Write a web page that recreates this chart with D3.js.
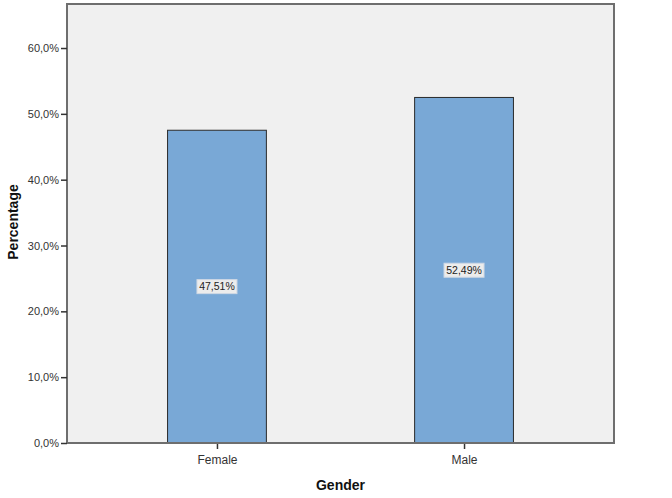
<!DOCTYPE html>
<html><head><meta charset="utf-8">
<script src="https://cdn.jsdelivr.net/npm/d3@7/dist/d3.min.js"></script>
<style>body{margin:0;background:#fff}svg{display:block}</style>
</head><body>
<svg id="c" width="672" height="498"></svg>
<script>
const categories = ["Female", "Male"];
const values = [47.51, 52.49];
const valueLabels = ["47,51%", "52,49%"];
const yTicks = [0, 10, 20, 30, 40, 50, 60];
const xTitle = "Gender";
const yTitle = "Percentage";

const svg = d3.select("#c");
const L = 67, R = 614, T = 4, B = 443;
const x = d3.scalePoint().domain(categories).range([L, R]).padding(0.607);
const y = d3.scaleLinear().domain([0, 60]).range([B, B - 6 * 65.83]);
const bw = x.step() * 0.4;

svg.append("rect").attr("x", L).attr("y", T).attr("width", R - L).attr("height", B - T)
  .attr("fill", "#f0f0f0").attr("stroke", "#6e6e6e").attr("stroke-width", 2);

svg.selectAll("rect.bar").data(values).join("rect").attr("class", "bar")
  .attr("x", (d, i) => x(categories[i]) - bw / 2)
  .attr("y", d => y(d))
  .attr("width", bw)
  .attr("height", d => y(0) - y(d))
  .attr("fill", "#79a8d6").attr("stroke", "#2a2a2a").attr("stroke-width", 1);

// y axis
const ya = svg.append("g").attr("transform", `translate(${L},0)`)
  .call(d3.axisLeft(y).tickValues(yTicks).tickSize(6).tickSizeOuter(0)
    .tickFormat(d => d.toFixed(1).replace(".", ",") + "%"));
ya.select(".domain").remove();
ya.selectAll("line").attr("stroke", "#333").attr("stroke-width", 1.5);
ya.selectAll("text").attr("font-family", "Arial, Liberation Sans, sans-serif").attr("font-size", 11).attr("fill", "#333").attr("dx", 1);

// x axis
const xa = svg.append("g").attr("transform", `translate(0,${B})`)
  .call(d3.axisBottom(x).tickSize(6).tickSizeOuter(0).tickPadding(6));
xa.select(".domain").remove();
xa.selectAll("line").attr("stroke", "#333").attr("stroke-width", 1.5);
xa.selectAll("text").attr("font-family", "Arial, Liberation Sans, sans-serif").attr("font-size", 12).attr("fill", "#333");

// bottom axis line redraw
svg.append("line").attr("x1", L).attr("x2", R).attr("y1", B).attr("y2", B).attr("stroke", "#6e6e6e").attr("stroke-width", 2);

// value labels
const lg = svg.selectAll("g.lab").data(values).join("g").attr("class", "lab")
  .attr("transform", (d, i) => `translate(${x(categories[i])},${(y(d) + y(0)) / 2})`);
lg.append("rect").attr("x", -20).attr("y", -7).attr("width", 40).attr("height", 14).attr("fill", "#ececec").attr("stroke", "#cfd8e4").attr("stroke-width", 1);
lg.append("text").text((d, i) => valueLabels[i]).attr("text-anchor", "middle").attr("dy", "0.35em")
  .attr("font-family", "Arial, Liberation Sans, sans-serif").attr("font-size", 10.5).attr("fill", "#222");

svg.append("text").text(xTitle).attr("x", 340.5).attr("y", 490).attr("text-anchor", "middle")
  .attr("font-family", "Arial, Liberation Sans, sans-serif").attr("font-weight", "bold").attr("font-size", 14).attr("fill", "#111");
svg.append("text").text(yTitle).attr("transform", "translate(18,222) rotate(-90)").attr("text-anchor", "middle")
  .attr("font-family", "Arial, Liberation Sans, sans-serif").attr("font-weight", "bold").attr("font-size", 14).attr("fill", "#111");
</script>
</body></html>
